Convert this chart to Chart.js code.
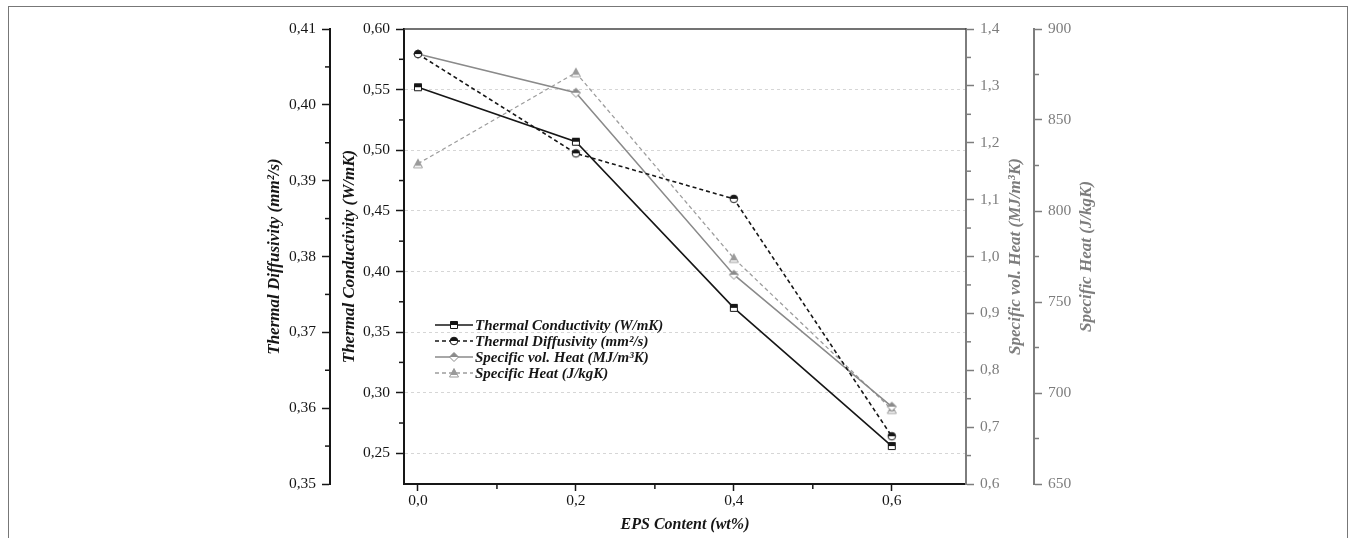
<!DOCTYPE html>
<html>
<head>
<meta charset="utf-8">
<script src="https://cdn.jsdelivr.net/npm/chart.js@4/dist/chart.umd.min.js"></script>
<style>
  html, body { margin: 0; padding: 0; background: #fff; }
  #wrap { position: relative; width: 1356px; height: 538px; overflow: hidden; }
  #frame { position: absolute; left: 8px; top: 6px; width: 1338px; height: 600px; border: 1px solid #777; }
  #c { position: absolute; left: 0; top: 0; }
</style>
</head>
<body>
<div id="wrap">
  <div id="frame"></div>
  <canvas id="c" width="1356" height="538"></canvas>
</div>
<script>
/* DATA */
const epsContent = [0, 0.2, 0.4, 0.6];
const thermalConductivity = [0.552, 0.507, 0.370, 0.256];
const thermalDiffusivity = [0.4067, 0.3936, 0.3876, 0.3563];
const specificVolHeat = [1.356, 1.288, 0.968, 0.736];
const specificHeat = [826, 876, 774, 691];

const seriesLabels = [
  'Thermal Conductivity (W/mK)',
  'Thermal Diffusivity (mm²/s)',
  'Specific vol. Heat (MJ/m³K)',
  'Specific Heat (J/kgK)'
];

const xTicks = [0, 0.2, 0.4, 0.6];
const condTicks = [0.25, 0.30, 0.35, 0.40, 0.45, 0.50, 0.55, 0.60];
const diffTicks = [0.35, 0.36, 0.37, 0.38, 0.39, 0.40, 0.41];
const volTicks = [0.6, 0.7, 0.8, 0.9, 1.0, 1.1, 1.2, 1.3, 1.4];
const heatTicks = [650, 700, 750, 800, 850, 900];

const xTitle = 'EPS Content (wt%)';

/* STYLE */
const BLACK = '#161616';
const GRAY = '#7d7d7d';
const SERIF = '"Liberation Serif", "Times New Roman", serif';
const tickFont = { family: SERIF, size: 15.5 };
const titleFont = 'italic bold 17px ' + SERIF;

const fmt = d => v => v.toFixed(d).replace('.', ',');

/* MARKERS - half filled */
function marker(shape, stroke, fill) {
  const c = document.createElement('canvas');
  c.width = 12; c.height = 12;
  const g = c.getContext('2d');
  const path = () => {
    g.beginPath();
    if (shape === 'square') g.rect(2.5, 2.5, 7, 7);
    else if (shape === 'circle') g.arc(6, 6, 3.8, 0, Math.PI * 2);
    else if (shape === 'diamond') { g.moveTo(6, 1.5); g.lineTo(10.5, 6); g.lineTo(6, 10.5); g.lineTo(1.5, 6); g.closePath(); }
    else { g.moveTo(6, 1.5); g.lineTo(10.5, 10); g.lineTo(1.5, 10); g.closePath(); }
  };
  path(); g.fillStyle = '#fff'; g.fill();
  g.save(); path(); g.clip();
  g.fillStyle = fill; g.fillRect(0, 0, 12, shape === 'triangle' ? 8 : 6);
  g.restore();
  path(); g.lineWidth = 1; g.strokeStyle = stroke; g.stroke();
  return c;
}

const markers = [
  marker('square', BLACK, BLACK),
  marker('circle', BLACK, BLACK),
  marker('diamond', '#8a8a8a', '#8a8a8a'),
  marker('triangle', '#9a9a9a', '#9a9a9a')
];

const pts = arr => epsContent.map((x, i) => ({ x: x, y: arr[i] }));

/* SCALES */
function yAxis(o) {
  return {
    type: 'linear', position: o.pos, min: o.min, max: o.max, weight: o.weight,
    afterBuildTicks: s => { s.ticks = o.ticks.map(v => ({ value: v })); },
    afterFit: s => { s.width = o.width; },
    ticks: { color: o.color, font: tickFont, padding: 6, autoSkip: false, callback: fmt(o.dec) },
    grid: {
      drawOnChartArea: !!o.grid,
      color: c => (o.grid && c.tick && c.tick.value < 0.59) ? '#d6d6d6' : 'transparent',
      lineWidth: 1,
      tickColor: o.color, tickLength: 8, tickWidth: 1.5, tickBorderDash: []
    },
    border: { color: o.color, width: 2, dash: o.grid ? [3, 3] : [] },
    title: { display: false }
  };
}

const scales = {
  x: {
    type: 'linear', position: 'bottom', min: -0.0177, max: 0.694,
    afterBuildTicks: s => { s.ticks = xTicks.map(v => ({ value: v })); },
    afterFit: s => { s.height = 54; },
    ticks: { color: BLACK, font: tickFont, padding: 1, autoSkip: false, maxRotation: 0, callback: fmt(1) },
    grid: { drawOnChartArea: false, tickColor: BLACK, tickLength: 7, tickWidth: 1.5 },
    border: { color: BLACK, width: 2 },
    title: { display: true, text: xTitle, color: BLACK, font: { family: SERIF, size: 16, weight: 'bold', style: 'italic' }, padding: { top: 2, bottom: 4 } }
  },
  yCond: yAxis({ pos: 'left', min: 0.2247, max: 0.60, weight: 0, ticks: condTicks, width: 74, color: BLACK, dec: 2, grid: true }),
  yDiff: yAxis({ pos: 'left', min: 0.35, max: 0.41, weight: 1, ticks: diffTicks, width: 76, color: BLACK, dec: 2 }),
  yVol: yAxis({ pos: 'right', min: 0.6, max: 1.4, weight: 0, ticks: volTicks, width: 68, color: GRAY, dec: 1 }),
  yHeat: yAxis({ pos: 'right', min: 650, max: 900, weight: 1, ticks: heatTicks, width: 80, color: GRAY, dec: 0 })
};

const axisTitles = [
  { id: 'yDiff', text: 'Thermal Diffusivity (mm²/s)', x: 275, color: BLACK },
  { id: 'yCond', text: 'Thermal Conductivity (W/mK)', x: 350, color: BLACK },
  { id: 'yVol', text: 'Specific vol. Heat (MJ/m³K)', x: 1016, color: GRAY },
  { id: 'yHeat', text: 'Specific Heat (J/kgK)', x: 1087, color: GRAY }
];

const minorMap = { x: xTicks, yCond: condTicks, yDiff: diffTicks, yVol: volTicks, yHeat: heatTicks };

/* PLUGINS */
const decorations = {
  id: 'decorations',
  afterDraw(chart) {
    const ctx = chart.ctx, a = chart.chartArea;
    ctx.save();
    // top frame
    ctx.strokeStyle = '#444'; ctx.lineWidth = 1.5;
    ctx.beginPath(); ctx.moveTo(a.left, a.top); ctx.lineTo(a.right, a.top); ctx.stroke();

    // minor ticks
    for (const id in minorMap) {
      const s = chart.scales[id], m = minorMap[id];
      ctx.strokeStyle = s.options.border.color; ctx.lineWidth = 1.5;
      for (let i = 0; i < m.length - 1; i++) {
        const p = s.getPixelForValue((m[i] + m[i + 1]) / 2);
        ctx.beginPath();
        if (id === 'x') { ctx.moveTo(p, s.top); ctx.lineTo(p, s.top + 5); }
        else if (s.position === 'left') { ctx.moveTo(s.right, p); ctx.lineTo(s.right - 5, p); }
        else { ctx.moveTo(s.left, p); ctx.lineTo(s.left + 5, p); }
        ctx.stroke();
      }
    }

    // axis titles, reading bottom to top
    ctx.font = titleFont; ctx.textAlign = 'center'; ctx.textBaseline = 'middle';
    const cy = (a.top + a.bottom) / 2;
    axisTitles.forEach(t => {
      ctx.save();
      ctx.translate(t.x, cy); ctx.rotate(-Math.PI / 2);
      ctx.fillStyle = t.color; ctx.fillText(t.text, 0, 0);
      ctx.restore();
    });

    // legend
    const lx = a.left + 31, ly = a.top + 296;
    ctx.font = 'italic bold 15px ' + SERIF; ctx.textAlign = 'left';
    chart.data.datasets.forEach((d, i) => {
      const y = ly + i * 16;
      ctx.strokeStyle = d.borderColor; ctx.lineWidth = d.borderWidth;
      ctx.setLineDash(d.borderDash || []);
      ctx.beginPath(); ctx.moveTo(lx, y); ctx.lineTo(lx + 38, y); ctx.stroke();
      ctx.setLineDash([]);
      ctx.drawImage(d.pointStyle, lx + 19 - 6, y - 6);
      ctx.fillStyle = BLACK; ctx.fillText(d.label, lx + 40, y + 1);
    });
    ctx.restore();
  }
};

new Chart(document.getElementById('c'), {
  type: 'line',
  data: {
    datasets: [
      { label: seriesLabels[0], data: pts(thermalConductivity), yAxisID: 'yCond', borderColor: BLACK, borderWidth: 1.6, pointStyle: markers[0] },
      { label: seriesLabels[1], data: pts(thermalDiffusivity), yAxisID: 'yDiff', borderColor: BLACK, borderWidth: 1.6, borderDash: [4, 3], pointStyle: markers[1] },
      { label: seriesLabels[2], data: pts(specificVolHeat), yAxisID: 'yVol', borderColor: '#8a8a8a', borderWidth: 1.5, pointStyle: markers[2] },
      { label: seriesLabels[3], data: pts(specificHeat), yAxisID: 'yHeat', borderColor: '#9d9d9d', borderWidth: 1.3, borderDash: [4, 3], pointStyle: markers[3] }
    ]
  },
  options: {
    responsive: false,
    animation: false,
    layout: { padding: { left: 254, right: 242, top: 29, bottom: 0 } },
    scales: scales,
    elements: { line: { tension: 0 }, point: { radius: 6, hoverRadius: 6 } },
    plugins: { legend: { display: false }, tooltip: { enabled: false } }
  },
  plugins: [decorations]
});
</script>
</body>
</html>
